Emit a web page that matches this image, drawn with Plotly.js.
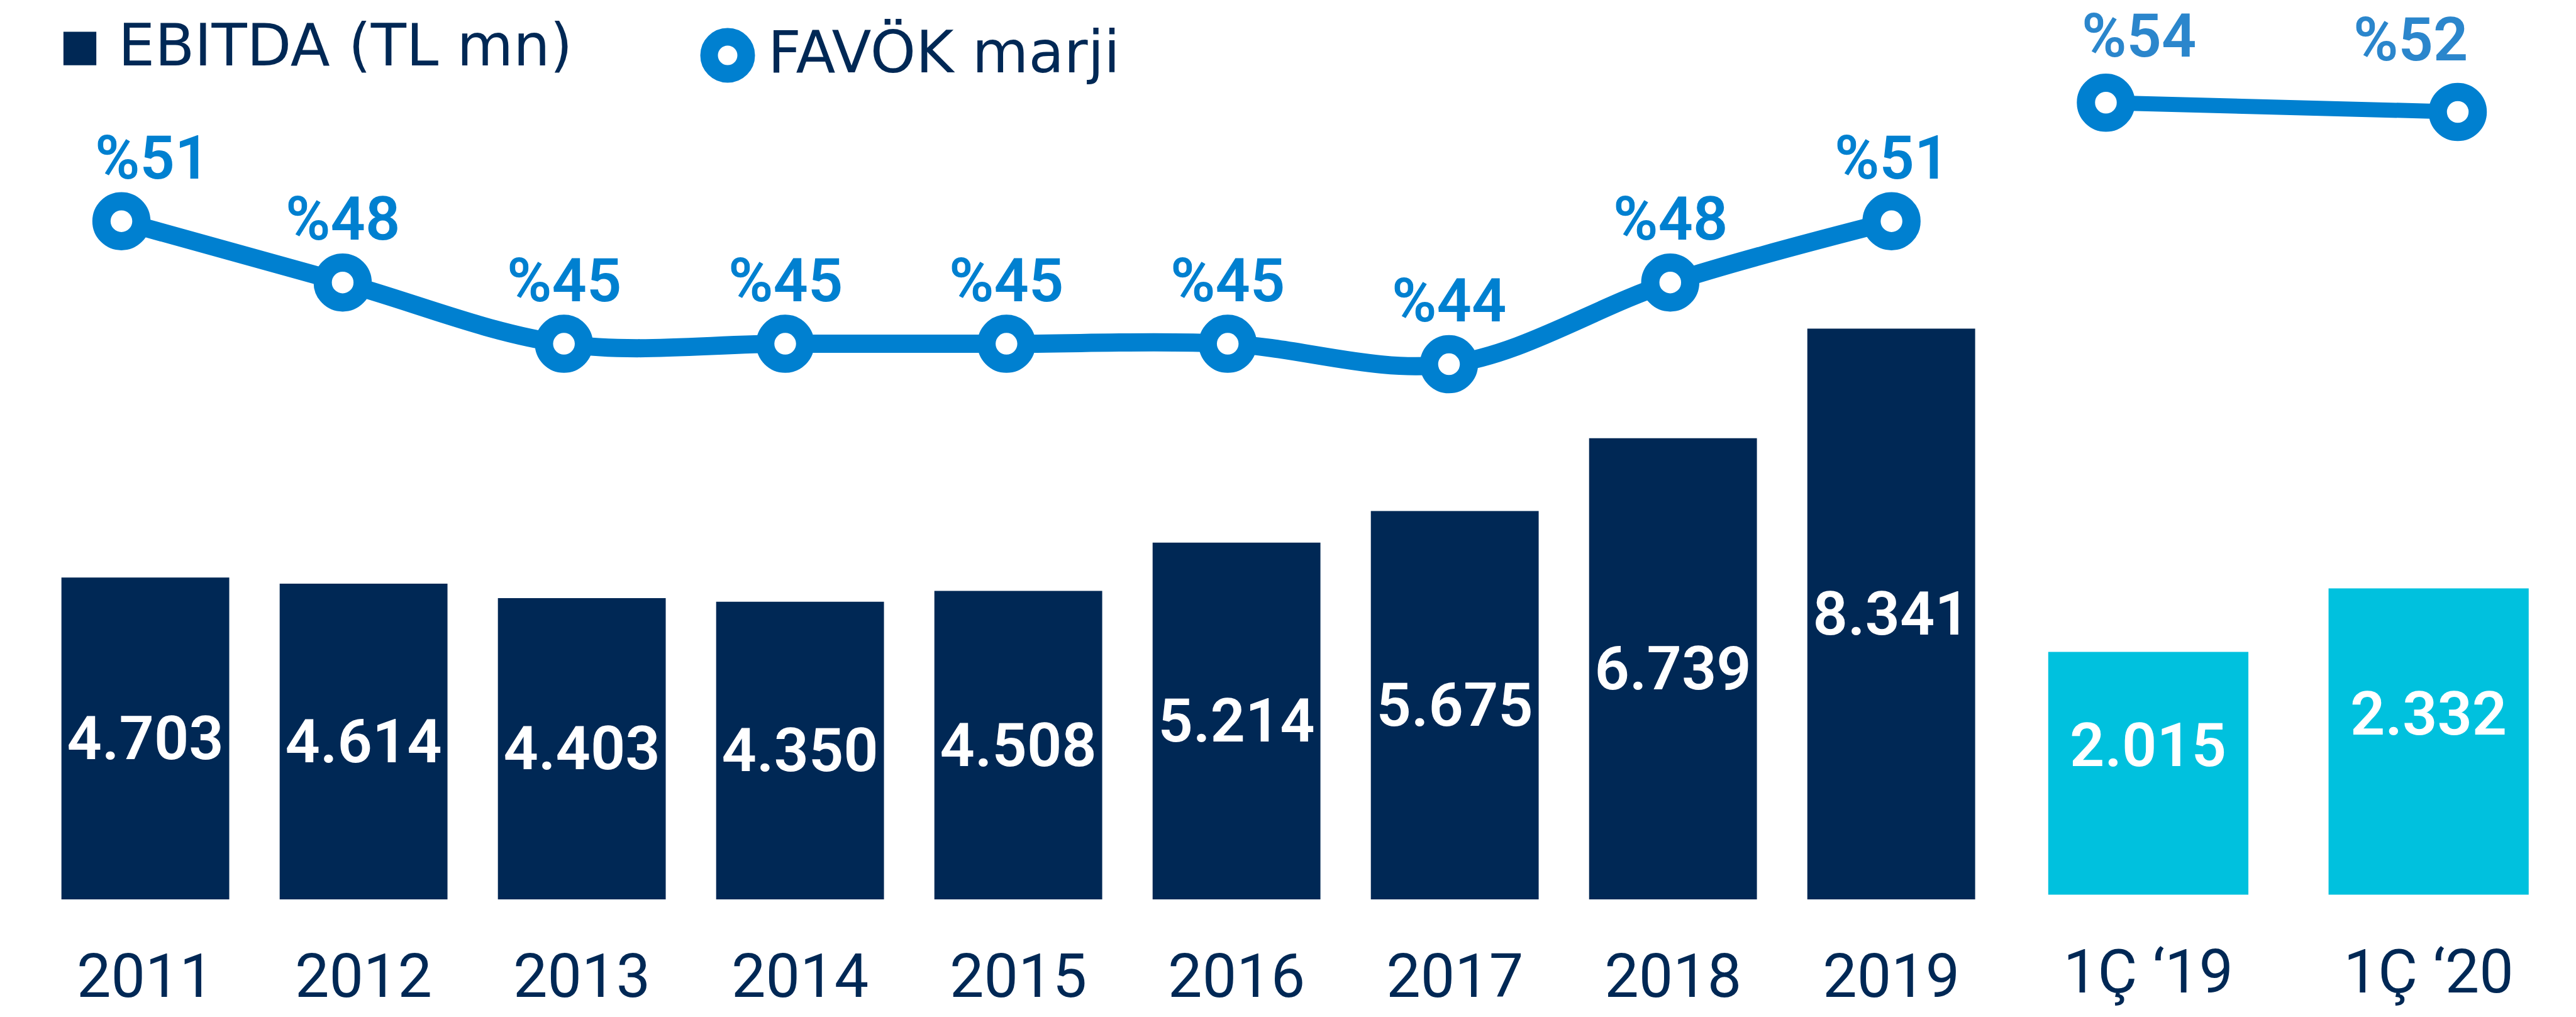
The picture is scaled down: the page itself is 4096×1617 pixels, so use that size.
<!DOCTYPE html>
<html>
<head>
<meta charset="utf-8">
<script src="https://cdn.plot.ly/plotly-3.0.1.min.js"></script>
<style>
html,body{margin:0;padding:0;background:#ffffff;overflow:hidden}
#chart{width:4096px;height:1617px}
</style>
</head>
<body>
<div id="chart"></div>
<script>
// ---------------- DATA ----------------
const years = ['2011','2012','2013','2014','2015','2016','2017','2018','2019'];
const ebitda = [4703, 4614, 4403, 4350, 4508, 5214, 5675, 6739, 8341];
const quarters = ['1\u00C7 \u201819', '1\u00C7 \u201820'];
const ebitdaQ = [2015, 2332];
const marginPct = [51, 48, 45, 45, 45, 45, 44, 48, 51];
const marginPctQ = [54, 52];
const legendNames = ['EBITDA (TL mn)', 'FAV\u00D6K marji'];

// ---------------- STYLE ----------------
const NAVY = '#002855', CYAN = '#00C1DE', BLUE = '#0080D0', BLUE2 = '#2B86CC';
const FONT = 'Roboto, "Open Sans", sans-serif';
const LEGEND_FONT = '"DejaVu Sans", "Open Sans", sans-serif';
const Q_BAR_MIN = 801.7;              // lower end of the quarterly bar axis
const pctXShift = [49, 0, 0, 0, 0, 0, 0, 0, 0];
const pctYShift = 101;
const pctQXShift = [52, -75];
const pctQYShift = [106, 115];
const qLabelYShift = 44;

function fmt(v) { return String(v).replace(/\B(?=(\d{3})+(?!\d))/g, '.'); }

const markerStyle = {size: 63.5, color: '#ffffff', line: {color: BLUE, width: 29}};

const traces = [
  {
    type: 'bar', x: years, y: ebitda, xaxis: 'x', yaxis: 'y', name: legendNames[0],
    marker: {color: NAVY}, width: 0.769,
    texttemplate: '%{y:,}', textposition: 'inside', insidetextanchor: 'middle',
    constraintext: 'none', textangle: 0,
    textfont: {family: FONT, size: 97, color: '#ffffff', weight: 600},
    hoverinfo: 'skip'
  },
  {
    type: 'bar', x: quarters, y: ebitdaQ, xaxis: 'x2', yaxis: 'y2', name: 'q',
    marker: {color: CYAN}, width: 0.714, hoverinfo: 'skip'
  },
  {
    type: 'scatter', mode: 'lines+markers', x: years, y: marginPct, xaxis: 'x3', yaxis: 'y3',
    name: legendNames[1],
    line: {color: BLUE, width: 29, shape: 'spline', smoothing: 1},
    marker: markerStyle, cliponaxis: false, hoverinfo: 'skip'
  },
  {
    type: 'scatter', mode: 'lines+markers', x: quarters, y: marginPctQ, xaxis: 'x4', yaxis: 'y4',
    name: 'q margin',
    line: {color: BLUE, width: 24},
    marker: markerStyle, cliponaxis: false, hoverinfo: 'skip'
  }
];

const annotations = [];
years.forEach((yr, i) => {
  annotations.push({
    xref: 'x3', yref: 'y3', x: i, y: marginPct[i], text: '%' + marginPct[i],
    showarrow: false, xanchor: 'center', yanchor: 'middle',
    xshift: pctXShift[i], yshift: pctYShift,
    font: {family: FONT, size: 97, color: BLUE, weight: 600}
  });
});
quarters.forEach((q, i) => {
  annotations.push({
    xref: 'x4', yref: 'y4', x: i, y: marginPctQ[i], text: '%' + marginPctQ[i],
    showarrow: false, xanchor: 'center', yanchor: 'middle',
    xshift: pctQXShift[i], yshift: pctQYShift[i],
    font: {family: FONT, size: 97, color: BLUE2, weight: 600}
  });
  annotations.push({
    xref: 'x2', yref: 'y2', x: i, y: (Q_BAR_MIN + ebitdaQ[i]) / 2, text: fmt(ebitdaQ[i]),
    showarrow: false, xanchor: 'center', yanchor: 'middle', yshift: qLabelYShift,
    font: {family: FONT, size: 97, color: '#ffffff', weight: 600}
  });
});
// legend texts
annotations.push({
  xref: 'paper', yref: 'paper', x: 0.045455, y: 0.95516, text: legendNames[0],
  showarrow: false, xanchor: 'left', yanchor: 'middle',
  font: {family: LEGEND_FONT, size: 92, color: NAVY}
});
annotations.push({
  xref: 'paper', yref: 'paper', x: 0.297582, y: 0.94867, text: legendNames[1],
  showarrow: false, xanchor: 'left', yanchor: 'middle',
  font: {family: LEGEND_FONT, size: 92, color: NAVY}
});

const shapes = [
  {type: 'rect', xref: 'paper', yref: 'paper', x0: 0.02463, x1: 0.03739, y0: 0.93591, y1: 0.96880,
   fillcolor: NAVY, line: {width: 0}},
  {type: 'circle', xref: 'paper', yref: 'paper', x0: 0.27527, x1: 0.28967, y0: 0.92733, y1: 0.96382,
   fillcolor: '#ffffff', line: {color: BLUE, width: 28}}
];

const hiddenAxis = {visible: false, showgrid: false, zeroline: false, fixedrange: true};
const tickFont = {family: FONT, size: 97, color: NAVY};

const layout = {
  width: 4096, height: 1617,
  margin: {l: 0, r: 0, t: 0, b: 0, pad: 0},
  paper_bgcolor: '#ffffff', plot_bgcolor: 'rgba(0,0,0,0)',
  showlegend: false, separators: ',.', hovermode: false,
  xaxis: {type: 'category', domain: [0.014062, 0.776534], range: [-0.5, 8.5], anchor: 'y',
          showgrid: false, zeroline: false, showline: false, ticks: '',
          tickfont: tickFont, ticklabelstandoff: 57},
  yaxis: Object.assign({}, hiddenAxis, {domain: [0.115712, 0.829835], range: [0, 10615.5], anchor: 'x'}),
  xaxis2: {type: 'category', domain: [0.779556, 0.997201], range: [-0.5, 1.5], anchor: 'y2',
           showgrid: false, zeroline: false, showline: false, ticks: '',
           tickfont: tickFont, ticklabelstandoff: 57},
  yaxis2: Object.assign({}, hiddenAxis, {domain: [0.120250, 0.829835], range: [Q_BAR_MIN, 4406.9], anchor: 'x2'}),
  xaxis3: Object.assign({}, hiddenAxis, {type: 'category', domain: [0.004187, 0.777228], range: [-0.5, 8.5], anchor: 'y3'}),
  yaxis3: Object.assign({}, hiddenAxis, {domain: [0, 1], range: [12.061, 61.821], anchor: 'x3'}),
  xaxis4: Object.assign({}, hiddenAxis, {type: 'category', domain: [0.790192, 0.981415], range: [-0.2, 1.2], anchor: 'y4'}),
  yaxis4: Object.assign({}, hiddenAxis, {domain: [0, 1], range: [-144.125, 76.25], anchor: 'x4'}),
  annotations: annotations,
  shapes: shapes
};

Plotly.newPlot('chart', traces, layout, {staticPlot: true, displayModeBar: false});
</script>
</body>
</html>
